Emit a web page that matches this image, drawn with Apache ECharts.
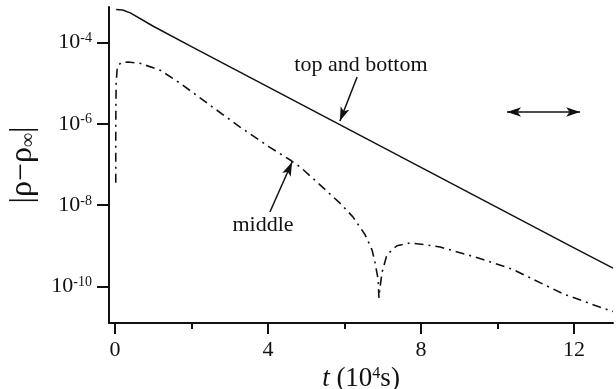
<!DOCTYPE html>
<html>
<head>
<meta charset="utf-8">
<script src="https://cdn.jsdelivr.net/npm/echarts@6/dist/echarts.min.js"></script>
<style>
  html, body { margin: 0; padding: 0; background: #fff; }
</style>
</head>
<body>
<div id="chart" style="width: 616px; height: 389px"></div>
<script>
// values are log10 |rho - rho_inf|, t in units of 10^4 s
const topBottom = [
  [0.03, -3.19], [0.2, -3.2], [0.4, -3.27], [1, -3.6], [2, -4.1], [4, -5.09],
  [6, -6.08], [8, -7.07], [10, -8.06], [12, -9.05], [13.02, -9.55],
];
const middle = [
  [0.02, -7.45], [0.02, -6.0], [0.03, -5.0], [0.06, -4.6], [0.15, -4.5],
  [0.34, -4.48], [0.65, -4.51], [1.18, -4.68], [1.7, -5.0], [2.48, -5.54],
  [3.27, -6.08], [4.05, -6.58], [4.58, -6.89], [4.84, -7.06], [5.36, -7.5],
  [5.88, -7.95], [6.22, -8.29], [6.54, -8.73], [6.72, -9.1], [6.8, -9.42],
  [6.88, -9.83], [6.9, -10.28], [6.94, -9.95], [6.98, -9.66], [7.11, -9.22],
  [7.37, -9.0], [7.71, -8.93], [8.16, -8.98], [8.5, -9.03], [9.5, -9.3],
  [10.4, -9.58], [11.71, -10.18], [12.5, -10.45], [13.02, -10.62],
];
const xLabelTicks = [0, 4, 8, 12];
const xMinorTicks = [2, 6, 10];
const yTicks = [-10, -8, -6, -4];

const FONT = "Liberation Serif";
const black = "#111";

const chart = echarts.init(document.getElementById("chart"));

chart.setOption({
  animation: false,
  grid: { left: 109, right: 3, top: 7, bottom: 66, outerBoundsMode: "none", containLabel: false },
  xAxis: [
    {
      type: "value",
      min: -0.157,
      max: 13.02,
      name: "{i|t} (10{s|4}s)",
      nameLocation: "middle",
      nameGap: 41,
      nameTextStyle: {
        fontFamily: FONT,
        fontSize: 27,
        color: black,
        rich: {
          i: { fontFamily: FONT, fontSize: 27, fontStyle: "italic", color: black },
          s: { fontFamily: FONT, fontSize: 16, verticalAlign: "top", color: black },
        },
      },
      axisLine: { show: true, onZero: false, lineStyle: { color: black, width: 2 } },
      axisTick: { show: true, customValues: xLabelTicks, length: 11, lineStyle: { color: black, width: 2 } },
      axisLabel: {
        customValues: xLabelTicks,
        margin: 16,
        fontFamily: FONT,
        fontSize: 22,
        color: black,
      },
      splitLine: { show: false },
    },
    {
      type: "value",
      min: -0.157,
      max: 13.02,
      position: "bottom",
      axisLine: { show: false },
      axisTick: { show: true, customValues: xMinorTicks, length: 6, lineStyle: { color: black, width: 2 } },
      axisLabel: { show: false },
      splitLine: { show: false },
    },
  ],
  yAxis: {
    type: "value",
    min: -10.9,
    max: -3.126,
    name: "|ρ−ρ{sub|∞}|",
    nameLocation: "middle",
    nameRotate: 90,
    nameGap: 70,
    nameTextStyle: {
      fontFamily: FONT,
      fontSize: 32,
      color: black,
      rich: {
        sub: { fontFamily: FONT, fontSize: 20, verticalAlign: "bottom", color: black },
      },
    },
    axisLine: { show: true, onZero: false, lineStyle: { color: black, width: 2 } },
    axisTick: { show: true, customValues: yTicks, length: 12, lineStyle: { color: black, width: 2 } },
    axisLabel: {
      customValues: yTicks,
      margin: 17,
      formatter: (v) => "{b|10}{s|" + v + "}",
      rich: {
        b: { fontFamily: FONT, fontSize: 22, color: black },
        s: { fontFamily: FONT, fontSize: 14, verticalAlign: "top", color: black },
      },
    },
    splitLine: { show: false },
  },
  series: [
    {
      name: "top and bottom",
      type: "line",
      data: topBottom,
      showSymbol: false,
      silent: true,
      lineStyle: { color: black, width: 1.5 },
      markLine: {
        silent: true,
        symbol: ["none", "arrow"],
        symbolSize: [7, 14],
        label: { show: false },
        lineStyle: { color: black, width: 1.5, type: "solid" },
        data: [
          [{ coord: [6.33, -4.85] }, { coord: [5.88, -5.93] }],
          [
            { coord: [10.25, -5.71], symbol: "arrow" },
            { coord: [12.16, -5.71], symbol: "arrow" },
          ],
        ],
      },
      markPoint: {
        silent: true,
        symbol: "circle",
        symbolSize: 1,
        itemStyle: { color: "transparent" },
        label: {
          show: true,
          formatter: "top and bottom",
          fontFamily: FONT,
          fontSize: 22,
          color: black,
        },
        data: [{ coord: [6.43, -4.55] }],
      },
    },
    {
      name: "middle",
      type: "line",
      data: middle,
      showSymbol: false,
      silent: true,
      lineStyle: { color: black, width: 1.6, type: [9, 5, 2, 5] },
      markLine: {
        silent: true,
        symbol: ["none", "arrow"],
        symbolSize: [7, 14],
        label: { show: false },
        lineStyle: { color: black, width: 1.5, type: "solid" },
        data: [[{ coord: [4.05, -8.17] }, { coord: [4.63, -6.94] }]],
      },
      markPoint: {
        silent: true,
        symbol: "circle",
        symbolSize: 1,
        itemStyle: { color: "transparent" },
        label: {
          show: true,
          formatter: "middle",
          fontFamily: FONT,
          fontSize: 22,
          color: black,
        },
        data: [{ coord: [3.87, -8.5] }],
      },
    },
  ],
});
</script>
</body>
</html>
